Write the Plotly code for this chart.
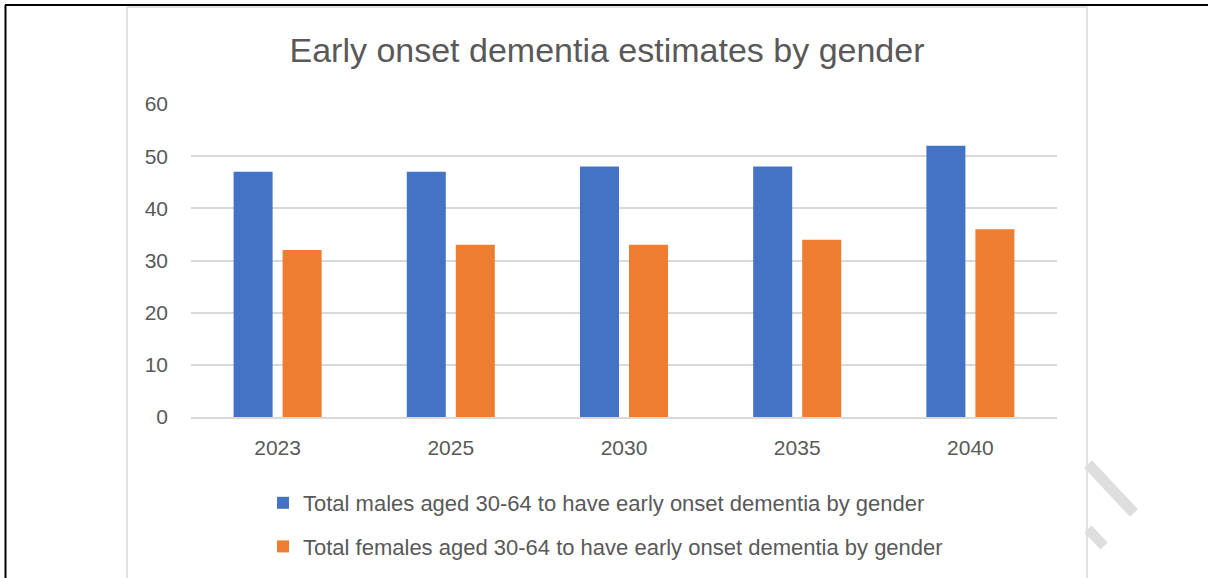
import plotly.graph_objects as go

years = ["2023", "2025", "2030", "2035", "2040"]
males = [47, 47, 48, 48, 52]
females = [32, 33, 33, 34, 36]
male_name = "Total males aged 30-64 to have early onset dementia by gender"
female_name = "Total females aged 30-64 to have early onset dementia by gender"
title_text = "Early onset dementia estimates by gender"
y_ticks = [0, 10, 20, 30, 40, 50, 60]

FONT = "Liberation Sans"
TXT = "#595959"

W_PX, H_PX = 1208, 578
L, R, T, B = 191, 1057, 104, 417


def px(x):
    return (x - L) / (R - L)


def py(y):
    return (B - y) / (B - T)


fig = go.Figure()
fig.add_trace(go.Bar(x=years, y=males, name=male_name, marker_color="#4472C4",
                     marker_line_width=0, legendgroup="m"))
fig.add_trace(go.Bar(x=years, y=females, name=female_name, marker_color="#ED7D31",
                     marker_line_width=0, legendgroup="f"))

shapes = []
# page borders (black)
shapes.append(dict(type="line", xref="paper", yref="paper", x0=px(5), x1=px(1208), y0=py(5), y1=py(5),
                   line=dict(color="black", width=2)))
shapes.append(dict(type="line", xref="paper", yref="paper", x0=px(5.5), x1=px(5.5), y0=py(5), y1=py(578),
                   line=dict(color="black", width=2)))
# chart area border (light gray)
gray = "#D9D9D9"
shapes.append(dict(type="line", xref="paper", yref="paper", x0=px(127), x1=px(1087), y0=py(7), y1=py(7),
                   line=dict(color=gray, width=1.5)))
shapes.append(dict(type="line", xref="paper", yref="paper", x0=px(127), x1=px(127), y0=py(7), y1=py(578),
                   line=dict(color=gray, width=1.5)))
shapes.append(dict(type="line", xref="paper", yref="paper", x0=px(1087), x1=px(1087), y0=py(7), y1=py(578),
                   line=dict(color=gray, width=1.5)))
# watermark fragments
wm = "#DEDEDE"
shapes.append(dict(type="line", xref="paper", yref="paper", x0=px(1088), x1=px(1134), y0=py(464), y1=py(513),
                   line=dict(color=wm, width=11)))
shapes.append(dict(type="line", xref="paper", yref="paper", x0=px(1088), x1=px(1104), y0=py(529), y1=py(546),
                   line=dict(color=wm, width=10)))

fig.update_layout(
    width=W_PX, height=H_PX,
    margin=dict(l=L, r=W_PX - R, t=T, b=H_PX - B, pad=0, autoexpand=False),
    paper_bgcolor="white", plot_bgcolor="white",
    barmode="group", bargap=0.434, bargroupgap=0.204,
    title=dict(text=title_text, x=607 / W_PX, xref="container", xanchor="center", y=1 - 50 / H_PX,
               yref="container", yanchor="middle",
               font=dict(family=FONT, size=34, color=TXT)),
    font=dict(family=FONT, size=22, color=TXT),
    xaxis=dict(showgrid=False, showline=True, linecolor=gray, linewidth=1.5, ticks="",
               tickfont=dict(size=21, color=TXT), ticklabelstandoff=11),
    yaxis=dict(range=[0, 60], tickvals=y_ticks, showgrid=True, gridcolor=gray, gridwidth=1.5,
               zeroline=False, showline=False, ticks="", tickfont=dict(size=21, color=TXT),
               ticklabelstandoff=22),
    legend=dict(orientation="v", x=px(263), xanchor="left", y=py(482), yanchor="top",
                font=dict(size=22, color=TXT), traceorder="grouped", tracegroupgap=12,
                bgcolor="rgba(0,0,0,0)", itemwidth=30),
    showlegend=True,
    shapes=shapes,
)

fig.write_html("out.html", config={"displayModeBar": False},
               post_script="document.body.style.margin='0';document.body.style.overflow='hidden';")
